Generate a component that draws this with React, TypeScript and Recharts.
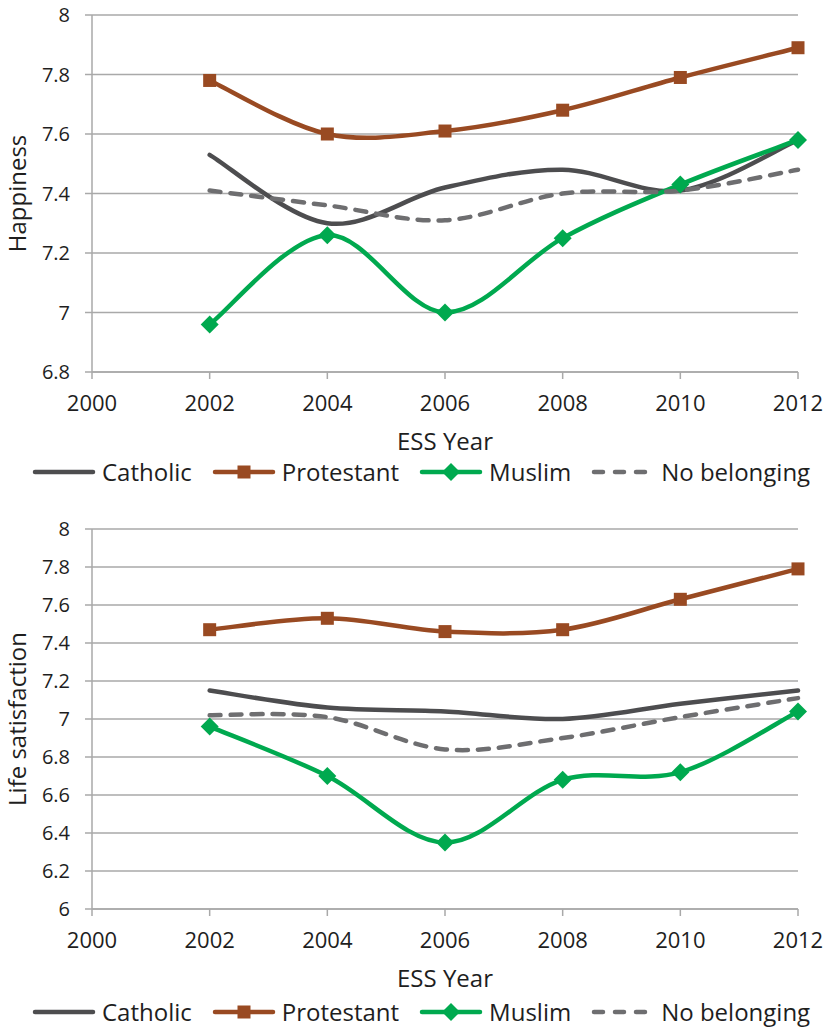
import React from 'react'
import { LineChart, Line, XAxis, YAxis, CartesianGrid, Legend } from 'recharts'

const YEARS = [2002, 2004, 2006, 2008, 2010, 2012]
const X_TICKS = [2000, 2002, 2004, 2006, 2008, 2010, 2012]

const HAPPY_CATHOLIC = [7.53, 7.3, 7.42, 7.48, 7.41, 7.58]
const HAPPY_PROTESTANT = [7.78, 7.6, 7.61, 7.68, 7.79, 7.89]
const HAPPY_MUSLIM = [6.96, 7.26, 7.0, 7.25, 7.43, 7.58]
const HAPPY_NONE = [7.41, 7.36, 7.31, 7.4, 7.41, 7.48]
const HAPPY_TICKS = [6.8, 7, 7.2, 7.4, 7.6, 7.8, 8]

const LIFE_CATHOLIC = [7.15, 7.06, 7.04, 7.0, 7.08, 7.15]
const LIFE_PROTESTANT = [7.47, 7.53, 7.46, 7.47, 7.63, 7.79]
const LIFE_MUSLIM = [6.96, 6.7, 6.35, 6.68, 6.72, 7.04]
const LIFE_NONE = [7.02, 7.01, 6.84, 6.9, 7.01, 7.11]
const LIFE_TICKS = [6, 6.2, 6.4, 6.6, 6.8, 7, 7.2, 7.4, 7.6, 7.8, 8]

const SERIES = [
  { key: 'catholic', name: 'Catholic', color: '#4d4d4f', marker: 'none', dash: undefined },
  { key: 'protestant', name: 'Protestant', color: '#994a22', marker: 'square', dash: undefined },
  { key: 'muslim', name: 'Muslim', color: '#00a94f', marker: 'diamond', dash: undefined },
  { key: 'none', name: 'No belonging', color: '#6e6e70', marker: 'none', dash: '11 10' },
]

const FONT = '"Open Sans", sans-serif'
const GRID = '#a9a9a9'
const TEXT = '#1e1e1e'

const buildRows = (cat: number[], pro: number[], mus: number[], none: number[]) =>
  YEARS.map((year, i) => ({ year, catholic: cat[i], protestant: pro[i], muslim: mus[i], none: none[i] }))

const happyRows = buildRows(HAPPY_CATHOLIC, HAPPY_PROTESTANT, HAPPY_MUSLIM, HAPPY_NONE)
const lifeRows = buildRows(LIFE_CATHOLIC, LIFE_PROTESTANT, LIFE_MUSLIM, LIFE_NONE)

// excel-style smoothed line (catmull-rom as cubic bezier)
const excelSmooth = (context: any) => {
  let xs: number[] = []
  let ys: number[] = []
  return {
    areaStart() {},
    areaEnd() {},
    lineStart() {
      xs = []
      ys = []
    },
    point(x: number, y: number) {
      xs.push(+x)
      ys.push(+y)
    },
    lineEnd() {
      const n = xs.length
      if (!n) return
      context.moveTo(xs[0], ys[0])
      for (let i = 0; i < n - 1; i++) {
        const p = Math.max(i - 1, 0)
        const q = Math.min(i + 2, n - 1)
        context.bezierCurveTo(
          xs[i] + (xs[i + 1] - xs[p]) / 6,
          ys[i] + (ys[i + 1] - ys[p]) / 6,
          xs[i + 1] - (xs[q] - xs[i]) / 6,
          ys[i + 1] - (ys[q] - ys[i]) / 6,
          xs[i + 1],
          ys[i + 1]
        )
      }
    },
  }
}

const Marker = ({ type, cx, cy, color }: { type: string; cx: number; cy: number; color: string }) => {
  if (type === 'square') {
    return <rect x={cx - 6.5} y={cy - 6.5} width={13} height={13} fill={color} />
  }
  if (type === 'diamond') {
    return <polygon points={`${cx},${cy - 9} ${cx + 9},${cy} ${cx},${cy + 9} ${cx - 9},${cy}`} fill={color} />
  }
  return null
}

const LegendContent = () => (
  <div
    style={{
      display: 'flex',
      alignItems: 'center',
      height: 30,
      paddingLeft: 32,
      fontFamily: FONT,
      whiteSpace: 'nowrap',
      width: 825,
      boxSizing: 'border-box',
    }}
  >
    {SERIES.map((s) => (
      <div key={s.key} style={{ display: 'flex', alignItems: 'center', marginRight: 20, flexShrink: 0 }}>
        <svg width={64} height={30} style={{ flexShrink: 0 }}>
          <line
            x1={3}
            y1={15}
            x2={61}
            y2={15}
            stroke={s.color}
            strokeWidth={4.5}
            strokeLinecap="round"
            strokeDasharray={s.dash ? '9 12' : undefined}
          />
          <Marker type={s.marker} cx={32} cy={15} color={s.color} />
        </svg>
        <span style={{ fontSize: 24, lineHeight: '30px', color: TEXT, marginLeft: 6, whiteSpace: 'nowrap' }}>
          {s.name}
        </span>
      </div>
    ))}
  </div>
)

interface PanelProps {
  data: any[]
  yLabel: string
  ticks: number[]
  height: number
  marginTop: number
  marginBottom: number
  legendTop: number
}

const Panel = ({ data, yLabel, ticks, height, marginTop, marginBottom, legendTop }: PanelProps) => (
  <LineChart
    width={825}
    height={height}
    data={data}
    margin={{ top: marginTop, right: 27, left: 0, bottom: marginBottom }}
  >
    <CartesianGrid vertical={false} stroke={GRID} strokeWidth={1.5} />
    <XAxis
      dataKey="year"
      type="number"
      domain={[2000, 2012]}
      ticks={X_TICKS}
      height={80}
      tickSize={7}
      tickMargin={16}
      stroke={GRID}
      strokeWidth={1.5}
      tick={{ fontSize: 22, fill: TEXT, fontFamily: FONT }}
      label={{ value: 'ESS Year', position: 'insideBottom', offset: 2, style: { fontSize: 24, fill: TEXT, fontFamily: FONT } }}
    />
    <YAxis
      type="number"
      domain={[ticks[0], ticks[ticks.length - 1]]}
      ticks={ticks}
      width={92}
      tickSize={7}
      tickMargin={15}
      stroke={GRID}
      strokeWidth={1.5}
      tick={{ fontSize: 20, fill: TEXT, fontFamily: FONT }}
      label={{
        value: yLabel,
        angle: -90,
        position: 'insideLeft',
        offset: 17,
        style: { textAnchor: 'middle', fontSize: 24, fill: TEXT, fontFamily: FONT },
      }}
    />
    <Legend
      verticalAlign="bottom"
      content={() => <LegendContent />}
      wrapperStyle={{ left: 0, top: legendTop, width: 825, height: 30 }}
    />
    {SERIES.map((s) => (
      <Line
        key={s.key}
        dataKey={s.key}
        name={s.name}
        type={excelSmooth as any}
        stroke={s.color}
        strokeWidth={4.5}
        strokeDasharray={s.dash}
        strokeLinecap="round"
        isAnimationActive={false}
        activeDot={false}
        dot={
          s.marker === 'none'
            ? false
            : (p: any) => <Marker key={`${s.key}-${p.index}`} type={s.marker} cx={p.cx} cy={p.cy} color={s.color} />
        }
      />
    ))}
  </LineChart>
)

export default function App() {
  return (
    <div style={{ position: 'absolute', left: 0, top: 0, width: 825, height: 1029, background: '#fff' }}>
      <Panel data={happyRows} yLabel="Happiness" ticks={HAPPY_TICKS} height={500} marginTop={15} marginBottom={18} legendTop={457} />
      <Panel data={lifeRows} yLabel="Life satisfaction" ticks={LIFE_TICKS} height={529} marginTop={29} marginBottom={10} legendTop={497} />
    </div>
  )
}
